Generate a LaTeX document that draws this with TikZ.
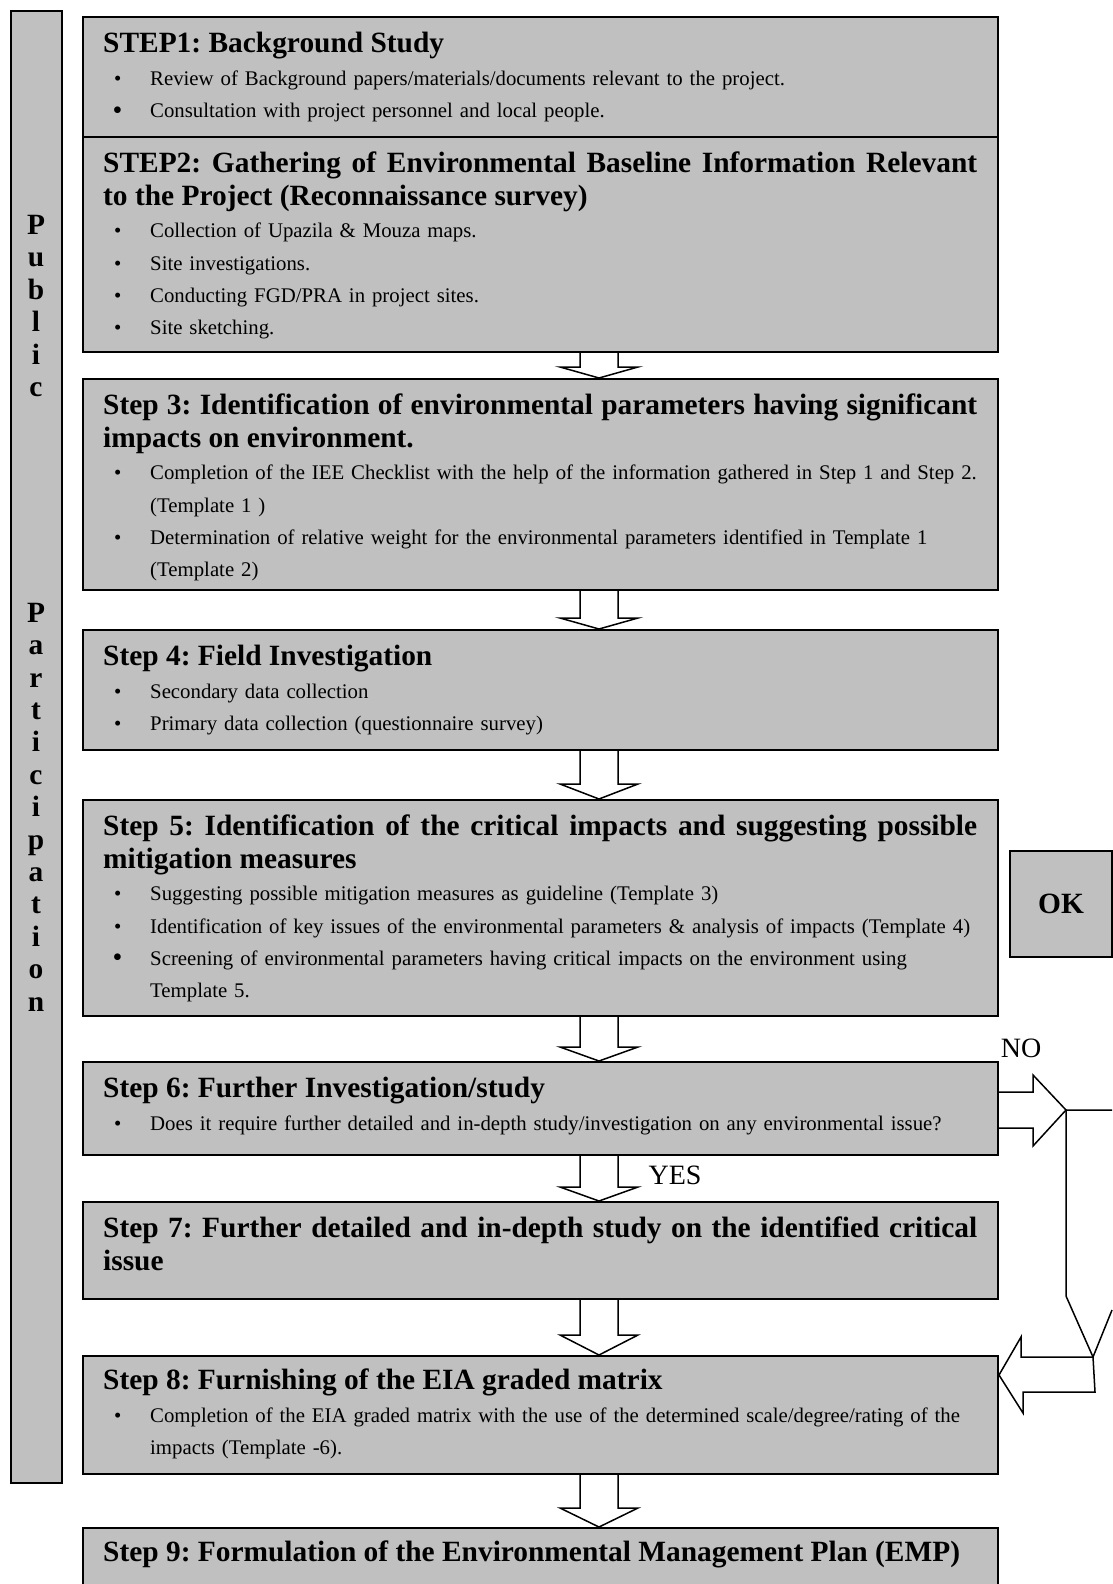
\documentclass[tikz,border=0pt]{standalone}
\usepackage{fontspec}
\setmainfont{Liberation Serif}
\usetikzlibrary{calc,positioning}
\definecolor{boxgray}{RGB}{192,192,192}
\setlength{\parindent}{0pt}
\setlength{\parskip}{0pt}
\frenchspacing
\newcommand{\titlefont}{\fontsize{29.4}{32.4}\selectfont\bfseries\spaceskip=0.25em plus 0.6em minus 0.05em\relax}
\newcommand{\bodyfont}{\fontsize{20.8}{32.4}\selectfont}
\newcommand{\labelfont}{\fontsize{28}{30}\selectfont}
\newcommand{\steptitle}[1]{{\titlefont\strut #1\par}}
\newcommand{\stepitem}[1]{\makebox[47pt][l]{\hspace{11pt}\textbullet}#1\par}
\newcommand{\stepitemb}[1]{\makebox[47pt][l]{\hspace{9.5pt}\raisebox{-1.5pt}{\fontsize{28}{32.4}\selectfont\textbullet}}#1\par}
\newcommand{\stepcont}[1]{\hspace*{47pt}#1\par}
\newcommand{\flowarrow}[3]{%
  \draw[blockarrow] ($(ax |- #1.south)+(-19,0)$) -- ($(ax |- #2.north)+(-19,-#3)$)
    -- ++(-20,0) -- (ax |- #2.north) -- ($(ax |- #2.north)+(39,-#3)$)
    -- ++(-20,0) -- ($(ax |- #1.south)+(19,0)$);}
\tikzset{
  stepbox/.style={draw=black, line width=2pt, fill=boxgray, anchor=north west, inner sep=0pt},
  steptext/.style={anchor=north west, inner sep=0pt, text width=1000pt, align=left, font=\bodyfont},
  sidetext/.style={inner sep=0pt, text width=40pt, align=center, font=\titlefont},
  blockarrow/.style={draw=black, line width=1.5pt, fill=white, line join=miter},
  sideline/.style={draw=black, line width=1.5pt}
}
\begin{document}
\begin{tikzpicture}[x=1pt,y=-1pt]
\useasboundingbox (0,0) rectangle (1112,1584);
% public participation bar
\node[stepbox, minimum width=51pt, minimum height=1472pt] (pp) at (10,10) {};
\node[sidetext] (pub) at (36,306) {P\\u\\b\\l\\i\\c};
\node[sidetext] (part) at (36,807) {P\\a\\r\\t\\i\\c\\i\\p\\a\\t\\i\\o\\n};

% step boxes
\node[stepbox, minimum width=915pt, minimum height=120pt] (s1) at (82,16) {};
\node[stepbox, minimum width=915pt, minimum height=215pt] (s2) at (82,136) {};
\node[stepbox, minimum width=915pt, minimum height=211pt] (s3) at (82,378) {};
\node[stepbox, minimum width=915pt, minimum height=120pt] (s4) at (82,629) {};
\node[stepbox, minimum width=915pt, minimum height=216pt] (s5) at (82,799) {};
\node[stepbox, minimum width=915pt, minimum height=93pt] (s6) at (82,1061) {};
\node[stepbox, minimum width=915pt, minimum height=97pt] (s7) at (82,1201) {};
\node[stepbox, minimum width=915pt, minimum height=118pt] (s8) at (82,1355) {};
\node[stepbox, minimum width=915pt, minimum height=60pt] (s9) at (82,1527) {};

% texts
\node[steptext] (t1) at ($(s1.north west)+(21,14)$) {%
  \steptitle{STEP1: Background Study}
  \stepitem{Review of Background papers/materials/documents relevant to the project.}
  \stepitemb{Consultation with project personnel and local people.}};
\node[steptext] (t2) at ($(s2.north west)+(21,14)$) {%
  \steptitle{\makebox[874pt][s]{STEP2: Gathering of Environmental Baseline Information Relevant}\par
    to the Project (Reconnaissance survey)}
  \stepitem{Collection of Upazila \& Mouza maps.}
  \stepitem{Site investigations.}
  \stepitem{Conducting FGD/PRA in project sites.}
  \stepitem{Site sketching.}};
\node[steptext] (t3) at ($(s3.north west)+(21,14)$) {%
  \steptitle{\makebox[874pt][s]{Step 3: Identification of environmental parameters having significant}\par
    impacts on environment.}
  \stepitem{Completion of the IEE Checklist with the help of the information gathered in Step 1 and Step 2.}
  \stepcont{(Template 1 )}
  \stepitem{Determination of relative weight for the environmental parameters identified in Template 1}
  \stepcont{(Template 2)}};
\node[steptext] (t4) at ($(s4.north west)+(21,14)$) {%
  \steptitle{Step 4: Field Investigation}
  \stepitem{Secondary data collection}
  \stepitem{Primary data collection (questionnaire survey)}};
\node[steptext] (t5) at ($(s5.north west)+(21,14)$) {%
  \steptitle{\makebox[874pt][s]{Step 5: Identification of the critical impacts and suggesting possible}\par
    mitigation measures}
  \stepitem{Suggesting possible mitigation measures as guideline (Template 3)}
  \stepitem{Identification of key issues of the environmental parameters \& analysis of impacts (Template 4)}
  \stepitemb{Screening of environmental parameters having critical impacts on the environment using}
  \stepcont{Template 5.}};
\node[steptext] (t6) at ($(s6.north west)+(21,14)$) {%
  \steptitle{Step 6: Further Investigation/study}
  \stepitem{Does it require further detailed and in-depth study/investigation on any environmental issue?}};
\node[steptext] (t7) at ($(s7.north west)+(21,14)$) {%
  \steptitle{\makebox[874pt][s]{Step 7: Further detailed and in-depth study on the identified critical}\par
    issue}};
\node[steptext] (t8) at ($(s8.north west)+(21,12)$) {%
  \steptitle{Step 8: Furnishing of the EIA graded matrix}
  \stepitem{Completion of the EIA graded matrix with the use of the determined scale/degree/rating of the}
  \stepcont{impacts (Template -6).}};
\node[steptext] (t9) at ($(s9.north west)+(21,12)$) {%
  \steptitle{Step 9: Formulation of the Environmental Management Plan (EMP)}};

% down arrows
\coordinate (ax) at (599,0);
\flowarrow{s2}{s3}{11}
\flowarrow{s3}{s4}{11}
\flowarrow{s4}{s5}{15}
\flowarrow{s5}{s6}{14}
\flowarrow{s6}{s7}{14}
\flowarrow{s7}{s8}{20}
\flowarrow{s8}{s9}{19}

% decision side
\node[stepbox, minimum width=102pt, minimum height=106pt, align=center, font=\titlefont] (ok) at (1009,850) {OK};
\node[font=\labelfont, inner sep=0pt] (nolbl) at (1021,1048) {NO};
\node[font=\labelfont, inner sep=0pt] (yeslbl) at (675,1175) {YES};

\coordinate (notip) at (1066,1110);
\path (notip) ++(-33,-18) coordinate (nohu) ++(0,36) coordinate (nohl);
\draw[blockarrow] (s6.east |- nohu) -- (nohu) -- ++(0,-17) -- (notip) -- ($(nohl)+(0,18)$) -- (nohl) -- (s6.east |- nohl);

\coordinate (noedge) at (1112,1110);
\coordinate (bend) at (1066,1296);
\coordinate (joint) at (1093,1357);
\coordinate (rightedge) at (1112,1310);
\draw[sideline] (noedge) -- (notip) -- (bend) -- (joint) -- (rightedge);

\path (s8.north east) ++(0,20) coordinate (backtip);
\draw[blockarrow] (joint) -- ++(-72,0) -- ++(0,-20) -- (backtip) -- ++(24,38) -- ++(0,-21) -- ++(72,0) -- cycle;
\end{tikzpicture}
\end{document}
